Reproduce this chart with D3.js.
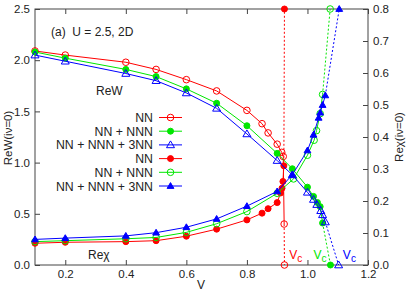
<!DOCTYPE html>
<html>
<head>
<meta charset="utf-8">
<script src="https://cdn.jsdelivr.net/npm/d3@7"></script>
<style>
  body { margin: 0; background: #fff; }
  svg { display: block; font-family: "Liberation Sans", Arial, sans-serif; }
  .axis text { font-size: 11px; fill: #222; }
  .axis path { display: none; }
  .axis line { stroke: #444; }
</style>
</head>
<body>
<svg id="chart" width="415" height="291"></svg>
<script>
// ReW(iν=0), left axis
const vW1 = [0.1, 0.2, 0.4, 0.5, 0.6, 0.7, 0.8, 0.85, 0.87, 0.9, 0.915, 0.92, 0.923];
const w1 = [2.09, 2.05, 1.98, 1.91, 1.81, 1.70, 1.51, 1.38, 1.29, 1.18, 1.10, 1.06, 0.40];
const w1Tail = [[0.923, 0.40], [0.924, 0.0]];

const vW2 = [0.1, 0.2, 0.4, 0.5, 0.6, 0.7, 0.8, 0.9, 0.95, 1.0, 1.02, 1.033, 1.042, 1.05];
const w2 = [2.08, 2.02, 1.91, 1.84, 1.72, 1.58, 1.36, 1.09, 0.94, 0.76, 0.67, 0.61, 0.57, 0.41];
const w2Tail = [[1.05, 0.41], [1.076, 0.0]];

const vW3 = [0.1, 0.2, 0.4, 0.5, 0.6, 0.7, 0.8, 0.9, 0.95, 1.0, 1.02, 1.031, 1.044, 1.05, 1.059];
const w3 = [2.05, 1.99, 1.87, 1.80, 1.68, 1.53, 1.28, 1.02, 0.88, 0.71, 0.64, 0.59, 0.53, 0.49, 0.42];
const w3Tail = [[1.059, 0.42], [1.103, 0.0]];

// Reχ(iν=0), right axis
const vX1 = [0.1, 0.2, 0.4, 0.5, 0.6, 0.7, 0.8, 0.85, 0.87, 0.9, 0.911, 0.916, 0.919, 0.922];
const x1 = [0.068, 0.071, 0.073, 0.076, 0.09, 0.112, 0.141, 0.162, 0.176, 0.195, 0.225, 0.24, 0.261, 0.31];
const x1Tail = [[0.922, 0.31], [0.924, 0.8]];

const vX2 = [0.1, 0.2, 0.4, 0.5, 0.6, 0.7, 0.8, 0.9, 0.954, 1.0, 1.022, 1.03, 1.042, 1.05];
const x2 = [0.073, 0.076, 0.082, 0.086, 0.102, 0.129, 0.167, 0.224, 0.269, 0.343, 0.39, 0.42, 0.473, 0.533];
const x2Tail = [[1.05, 0.533], [1.075, 0.8]];

const vX3 = [0.1, 0.2, 0.4, 0.5, 0.6, 0.7, 0.8, 0.9, 0.95, 1.0, 1.02, 1.037, 1.042, 1.05, 1.059];
const x3 = [0.08, 0.084, 0.091, 0.101, 0.118, 0.144, 0.184, 0.23, 0.282, 0.358, 0.407, 0.46, 0.476, 0.50, 0.53];
const x3Tail = [[1.059, 0.53], [1.105, 0.8]];

const legendLabels = ['NN', 'NN + NNN', 'NN + NNN + 3NN', 'NN', 'NN + NNN', 'NN + NNN + 3NN'];
const xTicks = [0.2, 0.4, 0.6, 0.8, 1.0, 1.2];
const yLeftTicks = [0.0, 0.5, 1.0, 1.5, 2.0, 2.5];
const yRightTicks = [0.0, 0.1, 0.2, 0.3, 0.4, 0.5, 0.6, 0.7, 0.8];

const RED = '#ff0000';
const GREEN = '#00e600';
const BLUE = '#0000ff';

const margin = { left: 35, right: 47, top: 9, bottom: 26 };
const width = 415, height = 291;

const svg = d3.select('#chart');

const x = d3.scaleLinear().domain([0.1, 1.2]).range([margin.left, width - margin.right]);
const yL = d3.scaleLinear().domain([0, 2.5]).range([height - margin.bottom, margin.top]);
const yR = d3.scaleLinear().domain([0, 0.8]).range([height - margin.bottom, margin.top]);

// axes, ticks pointing inward
svg.append('g').attr('class', 'axis')
  .attr('transform', `translate(0,${height - margin.bottom})`)
  .call(d3.axisBottom(x).tickValues(xTicks).tickFormat(d3.format('.1f')).tickSize(-5).tickPadding(5));
svg.append('g').attr('class', 'axis')
  .attr('transform', `translate(0,${margin.top})`)
  .call(d3.axisTop(x).tickValues(xTicks).tickFormat('').tickSize(-5));
svg.append('g').attr('class', 'axis')
  .attr('transform', `translate(${margin.left},0)`)
  .call(d3.axisLeft(yL).tickValues(yLeftTicks).tickFormat(d3.format('.1f')).tickSize(-5).tickPadding(5));
svg.append('g').attr('class', 'axis')
  .attr('transform', `translate(${width - margin.right},0)`)
  .call(d3.axisRight(yR).tickValues(yRightTicks).tickFormat(d3.format('.1f')).tickSize(-5).tickPadding(5));

svg.selectAll('.axis text').style('font-size', '11.5px');

// frame
svg.append('rect')
  .attr('x', margin.left).attr('y', margin.top)
  .attr('width', width - margin.left - margin.right)
  .attr('height', height - margin.top - margin.bottom)
  .attr('fill', 'none').attr('stroke', '#444').attr('stroke-width', 1);

const plot = svg.append('g');

function marker(g, shape, color, cx, cy) {
  if (shape === 'circleOpen' || shape === 'circleFill') {
    g.append('circle').attr('cx', cx).attr('cy', cy).attr('r', shape === 'circleOpen' ? 3.3 : 3)
      .attr('fill', shape === 'circleFill' ? color : 'none')
      .attr('stroke', color).attr('stroke-width', 1);
  } else {
    const s = shape === 'triOpen' ? 4 : 3.4;
    const pts = [[cx, cy - s], [cx - s, cy + s * 0.7], [cx + s, cy + s * 0.7]];
    g.append('path').attr('d', d3.line()(pts) + 'Z')
      .attr('fill', shape === 'triFill' ? color : 'none')
      .attr('stroke', color).attr('stroke-width', 1);
  }
}

function drawSeries(vs, vals, tail, yScale, color, shape) {
  const pts = vs.map((v, i) => [x(v), yScale(vals[i])]);
  plot.append('path').attr('d', d3.line()(pts))
    .attr('fill', 'none').attr('stroke', color).attr('stroke-width', 1);
  const tp = tail.map(d => [x(d[0]), yScale(d[1])]);
  plot.append('path').attr('d', d3.line()(tp))
    .attr('fill', 'none').attr('stroke', color).attr('stroke-width', 1)
    .attr('stroke-dasharray', '2,2');
  pts.forEach(p => marker(plot, shape, color, p[0], p[1]));
  marker(plot, shape, color, tp[1][0], tp[1][1]);
}

drawSeries(vX1, x1, x1Tail, yR, RED, 'circleFill');
drawSeries(vW1, w1, w1Tail, yL, RED, 'circleOpen');
drawSeries(vX2, x2, x2Tail, yR, GREEN, 'circleOpen');
drawSeries(vW2, w2, w2Tail, yL, GREEN, 'circleFill');
drawSeries(vX3, x3, x3Tail, yR, BLUE, 'triFill');
drawSeries(vW3, w3, w3Tail, yL, BLUE, 'triOpen');

// legend
const legendShapes = ['circleOpen', 'circleFill', 'triOpen', 'circleFill', 'circleOpen', 'triFill'];
const legendColors = [RED, GREEN, BLUE, RED, GREEN, BLUE];
const legend = svg.append('g');
legendLabels.forEach((lab, i) => {
  const ly = 117.5 + i * 13.7;
  legend.append('text').attr('x', 153).attr('y', ly + 4.5)
    .attr('text-anchor', 'end').attr('font-size', 12.3).attr('fill', '#222').text(lab);
  legend.append('line').attr('x1', 159).attr('x2', 182).attr('y1', ly).attr('y2', ly)
    .attr('stroke', legendColors[i]).attr('stroke-width', 1);
  marker(legend, legendShapes[i], legendColors[i], 170.5, ly);
});

// annotations
svg.append('text').attr('x', 51).attr('y', 36).attr('font-size', 12).attr('fill', '#222')
  .attr('xml:space', 'preserve').text('(a)  U = 2.5, 2D');
svg.append('text').attr('x', 96).attr('y', 95).attr('font-size', 12).attr('fill', '#222').text('ReW');
svg.append('text').attr('x', 88).attr('y', 259).attr('font-size', 12).attr('fill', '#222').text('Reχ');

const vcLabels = [[0.94, RED], [1.02, GREEN], [1.117, BLUE]];
vcLabels.forEach(([v, c]) => {
  const t = svg.append('text').attr('x', x(v)).attr('y', 259).attr('font-size', 12).attr('fill', c);
  t.append('tspan').text('V');
  t.append('tspan').attr('dy', 3).attr('font-size', 10).text('c');
});

// axis titles
svg.append('text').attr('x', 201).attr('y', 289).attr('text-anchor', 'middle')
  .attr('font-size', 12).attr('fill', '#222').text('V');
svg.append('text').attr('transform', `translate(12,138) rotate(-90)`).attr('text-anchor', 'middle')
  .attr('font-size', 11.5).attr('fill', '#222').text('ReW(iν=0)');
svg.append('text').attr('transform', `translate(403,137) rotate(-90)`).attr('text-anchor', 'middle')
  .attr('font-size', 11.5).attr('fill', '#222').text('Reχ(iν=0)');
</script>
</body>
</html>
